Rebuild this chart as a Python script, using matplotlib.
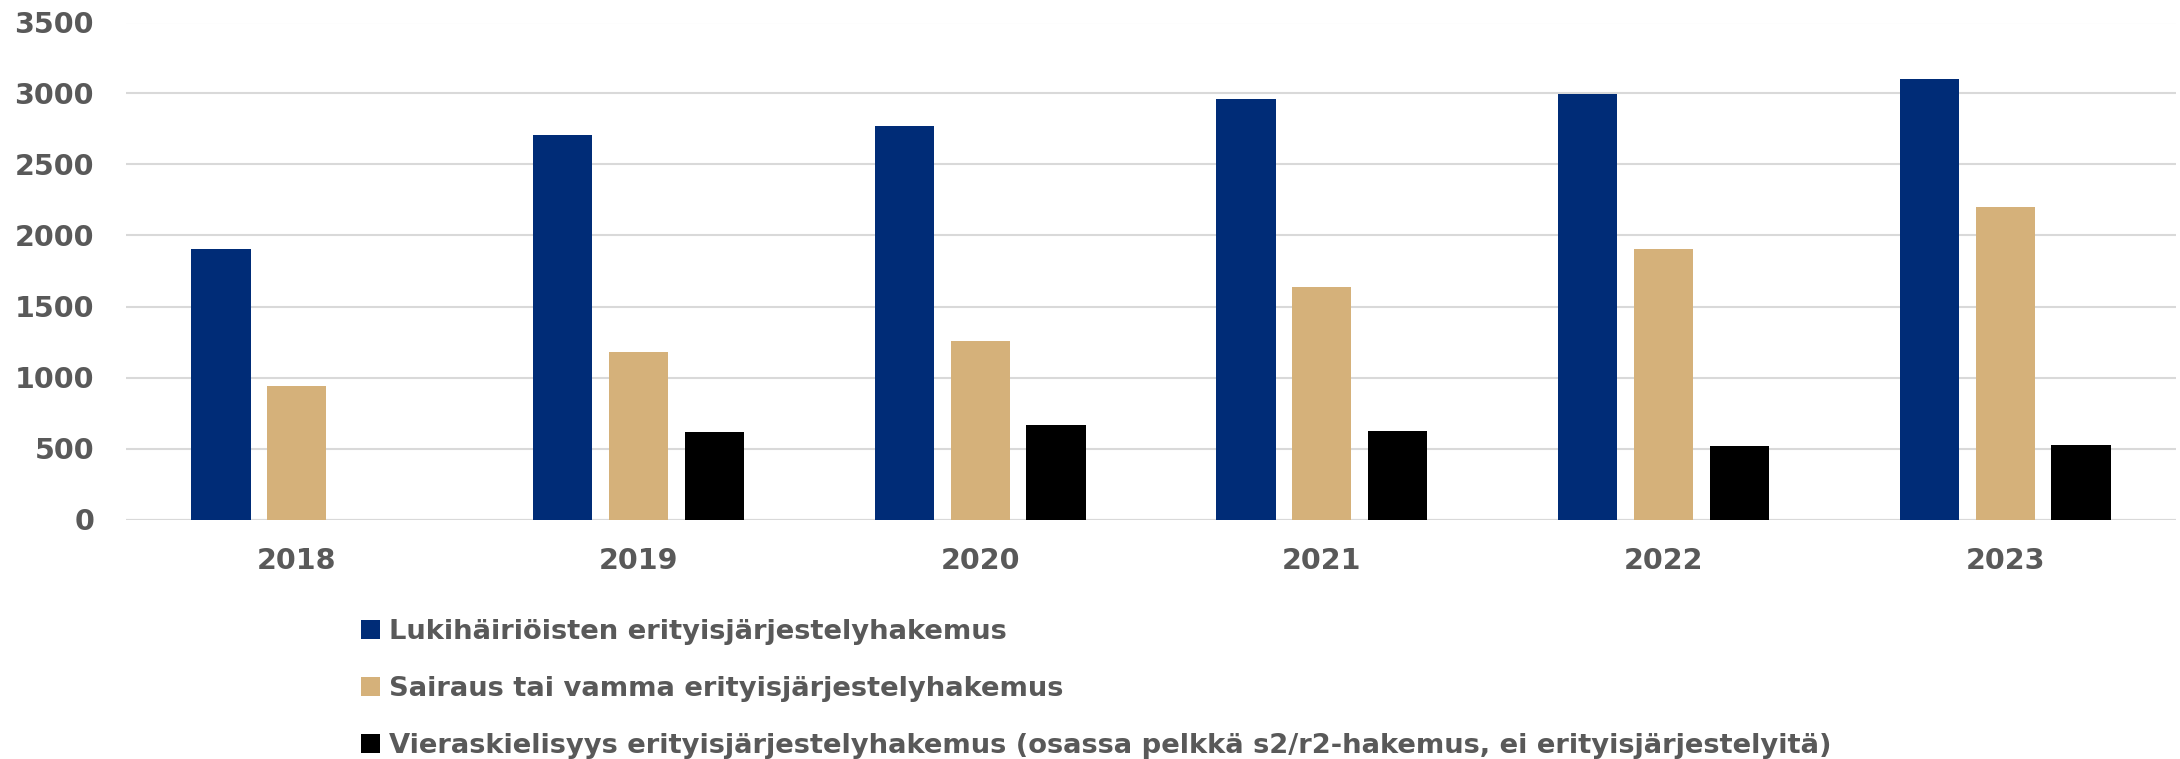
import numpy as np
import matplotlib
matplotlib.use("Agg")
import matplotlib.pyplot as plt
from matplotlib.patches import Patch

# data
years = ["2018", "2019", "2020", "2021", "2022", "2023"]
lukihairio = [1905, 2710, 2770, 2960, 2995, 3105]
sairaus = [942, 1178, 1257, 1640, 1906, 2202]
vieraskieli = [np.nan, 616, 668, 626, 518, 527]

labels = [
    "Lukihäiriöisten erityisjärjestelyhakemus",
    "Sairaus tai vamma erityisjärjestelyhakemus",
    "Vieraskielisyys erityisjärjestelyhakemus (osassa pelkkä s2/r2-hakemus, ei erityisjärjestelyitä)",
]
colors = ["#002C77", "#D5B17A", "#000000"]
text_col = "#595959"

W, H = 2180, 759
fig = plt.figure(figsize=(W / 100, H / 100), dpi=100)
# plot area: left 126px, zero line at y=519.5, 3500 at y=22.5
ax = fig.add_axes([126 / W, 1 - 519.5 / H, 2050 / W, 497 / H])

x = np.arange(len(years))
w = 0.173
step = 0.222
for i, (vals, c) in enumerate(zip([lukihairio, sairaus, vieraskieli], colors)):
    ax.bar(x + (i - 1) * step, vals, width=w, color=c, zorder=3)

ax.set_xlim(-0.5, len(years) - 0.5)
ax.set_ylim(0, 3500)
ax.set_yticks(range(0, 3501, 500))
ax.set_xticks(x)
ax.set_xticklabels(years)
ax.grid(axis="y", color="#d9d9d9", linewidth=1.5, zorder=0)
ax.axhline(0, color="#d9d9d9", linewidth=1.5, zorder=1)
for s in ax.spines.values():
    s.set_visible(False)
ax.tick_params(length=0, labelsize=20.5, labelcolor=text_col)
ax.tick_params(axis="y", pad=23)
ax.tick_params(axis="x", pad=20)
for t in ax.get_xticklabels() + ax.get_yticklabels():
    t.set_fontweight("bold")
    t.set_family("DejaVu Sans")

handles = [Patch(facecolor=c, edgecolor="none") for c in colors]
fig.legend(handles, labels, loc="upper left", bbox_to_anchor=(361 / W, 1 - 619 / H),
           frameon=False, ncol=1, prop={"family": "DejaVu Sans", "weight": "bold", "size": 19.7},
           labelcolor=text_col, handlelength=0.7, handleheight=0.7, handletextpad=0.33,
           labelspacing=1.13, borderaxespad=0, borderpad=0)

fig.savefig("out.png", dpi=100)
